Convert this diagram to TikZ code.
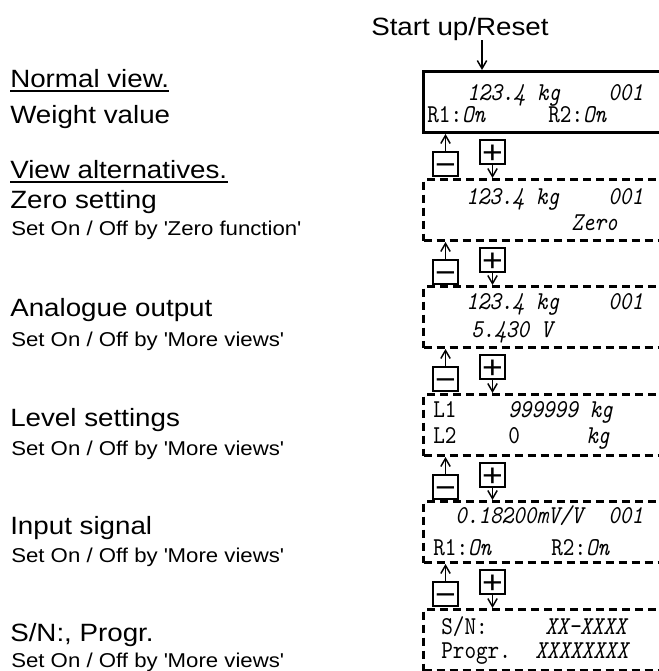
\documentclass[tikz,border=0pt]{standalone}
\usepackage{fontspec}
\setmainfont{Liberation Sans}[FakeStretch=1.11]
\newfontfamily\lcdfont{lmmono10-regular.otf}[FakeStretch=0.86, ItalicFont=lmmono10-italic.otf]
\usetikzlibrary{arrows.meta,positioning}
\tikzset{
  display/.style={rectangle, draw, line width=2.25pt, minimum width=225pt, minimum height=45.75pt,
                  inner sep=0pt, anchor=north west},
  displaydash/.style={display, dash pattern=on 6pt off 3.75pt},
  key/.style={rectangle, draw, line width=0.9pt, minimum width=18.75pt, minimum height=18pt,
              inner sep=0pt, text height=17pt, text depth=0pt, font=\fontsize{24}{24}\selectfont},
  lcd/.style={anchor=base west, inner sep=0pt, font=\lcdfont\fontsize{19.3}{19.3}\selectfont},
  caption/.style={anchor=base west, inner sep=0pt, font=\fontsize{18.75}{18.75}\selectfont},
  note/.style={anchor=base west, inner sep=0pt, font=\fontsize{15}{15}\selectfont},
  arrow/.style={-{Straight Barb[length=6pt, width=7pt]}, line width=1.1pt},
}

\begin{document}
\begin{tikzpicture}[x=0.75pt, y=-0.75pt]
\useasboundingbox (0,0) rectangle (659,671);
\clip (0,0) rectangle (659,671);

% displays
\node[display] (disp1) at (422,70) {};
\node[displaydash] (disp2) at (422,178) {};
\node[displaydash] (disp3) at (422,285) {};
\node[displaydash] (disp4) at (422,393) {};
\node[displaydash] (disp5) at (422,500) {};
\node[displaydash] (disp6) at (422,608) {};

% start up
\node[caption] (reset) at (371,35) {Start up/Reset};
\coordinate (resetarrow) at (482,40);
\draw[arrow] (resetarrow) -- (resetarrow |- disp1.north);

% keys between the views
\foreach \i/\j in {1/2, 2/3, 3/4, 4/5, 5/6} {
  \node[key] (minus\i) at ([shift={(23.5,30)}]disp\i.south west) {−};
  \node[key] (plus\i) at ([shift={(70.5,18)}]disp\i.south west) {+};
  \draw[arrow] (minus\i.north) -- (minus\i.north |- disp\i.south);
  \draw[arrow] (plus\i.south) -- (plus\i.south |- disp\j.north);
}

% display texts
\node[lcd] (t1a) at (467,100) {\textit{123.4 kg}};
\node[lcd] (t1b) at (608,100) {\textit{001}};
\node[lcd] (t1c) at (427,122) {R1:\textit{On}};
\node[lcd] (t1d) at (548,122) {R2:\textit{On}};

\node[lcd] (t2a) at (466,204) {\textit{123.4 kg}};
\node[lcd] (t2b) at (608,204) {\textit{001}};
\node[lcd] (t2c) at (571,230) {\textit{Zero}};

\node[lcd] (t3a) at (466,309) {\textit{123.4 kg}};
\node[lcd] (t3b) at (608,309) {\textit{001}};
\node[lcd] (t3c) at (471,337) {\textit{5.430 V}};

\node[lcd] (t4a) at (433,417) {L1};
\node[lcd] (t4b) at (508,417) {\textit{999999 kg}};
\node[lcd] (t4c) at (433,443) {L2};
\node[lcd] (t4d) at (508,443) {0};
\node[lcd] (t4e) at (586,443) {\textit{kg}};

\node[lcd] (t5a) at (455,523) {\textit{0.18200mV/V}};
\node[lcd] (t5b) at (608,523) {\textit{001}};
\node[lcd] (t5c) at (433,555) {R1:\textit{On}};
\node[lcd] (t5d) at (551,555) {R2:\textit{On}};

\node[lcd] (t6a) at (441,634) {S/N:};
\node[lcd] (t6b) at (545,634) {\textit{XX-XXXX}};
\node[lcd] (t6c) at (441,658) {Progr.};
\node[lcd] (t6d) at (535,658) {\textit{XXXXXXXX}};

% left column
\node[caption] (normal) at (10,87.3) {Normal view.};
\draw[line width=1.3pt] ([yshift=-2.4pt]normal.south west) -- ([yshift=-2.4pt]normal.south east);
\node[caption] (weight) at (10,123.3) {Weight value};
\node[caption] (alts) at (10,178.3) {View alternatives.};
\draw[line width=1.3pt] ([yshift=-2.4pt]alts.south west) -- ([yshift=-2.4pt]alts.south east);

\node[caption] (zero) at (10,208.3) {Zero setting};
\node[note] (zeronote) at (11,235) {Set On / Off by \textquotesingle Zero function\textquotesingle};
\node[caption] (analog) at (10,316.7) {Analogue output};
\node[note] (analognote) at (11,346) {Set On / Off by \textquotesingle More views\textquotesingle};
\node[caption] (level) at (10,426) {Level settings};
\node[note] (levelnote) at (11,455) {Set On / Off by \textquotesingle More views\textquotesingle};
\node[caption] (input) at (10,534) {Input signal};
\node[note] (inputnote) at (11,562) {Set On / Off by \textquotesingle More views\textquotesingle};
\node[caption] (serial) at (10,641) {S/N:, Progr.};
\node[note] (serialnote) at (11,667) {Set On / Off by \textquotesingle More views\textquotesingle};
\end{tikzpicture}
\end{document}
